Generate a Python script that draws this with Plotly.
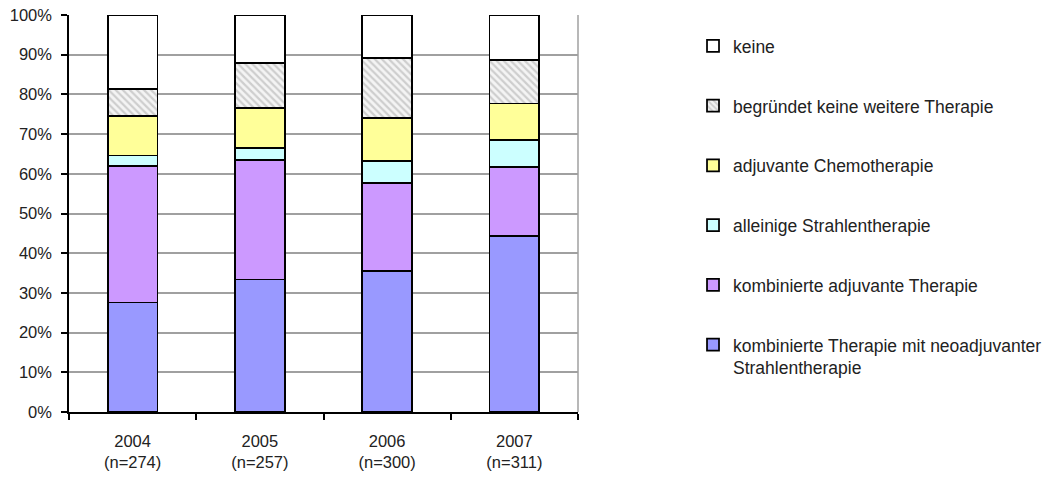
import plotly.graph_objects as go

years = ["2004<br>(n=274)", "2005<br>(n=257)", "2006<br>(n=300)", "2007<br>(n=311)"]

# Shares per year in percent, stacked from bottom to top
neoadjuvant = [27.6, 33.4, 35.6, 44.3]
kombiniert_adjuvant = [34.4, 30.0, 22.1, 17.4]
strahlentherapie = [2.6, 3.1, 5.6, 6.8]
chemotherapie = [9.9, 10.0, 10.7, 9.2]
begruendet_keine = [6.8, 11.4, 15.2, 11.0]
keine = [18.7, 12.1, 10.8, 11.3]

series = [
    ("kombinierte Therapie mit neoadjuvanter<br>Strahlentherapie", neoadjuvant, "#9999FF", None),
    ("kombinierte adjuvante Therapie", kombiniert_adjuvant, "#CC99FF", None),
    ("alleinige Strahlentherapie", strahlentherapie, "#CCFFFF", None),
    ("adjuvante Chemotherapie", chemotherapie, "#FFFF99", None),
    ("begründet keine weitere Therapie", begruendet_keine, "#FFFFFF", "\\"),
    ("keine", keine, "#FFFFFF", None),
]

font_family = "Liberation Sans, Arial, sans-serif"

fig = go.Figure()
n = len(series)
for i, (name, vals, color, shape) in enumerate(series):
    marker = dict(color=color, line=dict(color="black", width=1.75))
    if shape:
        marker["pattern"] = dict(shape=shape, fgcolor="#A8A8A8", bgcolor="#F4F4F4",
                                 size=5, solidity=0.45)
    fig.add_trace(go.Bar(
        x=years, y=vals, name=name, marker=marker,
        legendgroup=f"g{i}", legendrank=n - i, width=0.39,
    ))

fig.update_layout(
    barmode="stack",
    width=1047, height=486,
    margin=dict(l=69, r=469, t=15, b=74),
    paper_bgcolor="white", plot_bgcolor="white",
    font=dict(family=font_family, size=17, color="#222222"),
    showlegend=True,
    legend=dict(
        xref="container", x=0.6619, xanchor="left",
        yref="paper", y=0.967, yanchor="top",
        traceorder="grouped", tracegroupgap=34,
        valign="top", font=dict(size=17.5),
        itemwidth=30,
    ),
    xaxis=dict(
        showline=True, linecolor="black", linewidth=1.5,
        ticks="outside", ticklen=6, tickwidth=1.5, tickcolor="black",
        tickson="boundaries", showgrid=False, automargin=False,
        tickfont=dict(size=16.5), ticklabelstandoff=13,
    ),
    yaxis=dict(
        range=[0, 100], dtick=10, ticksuffix="%",
        showline=True, linecolor="black", linewidth=1.5,
        ticks="outside", ticklen=6, tickwidth=1.5, tickcolor="black",
        showgrid=True, gridcolor="#A0A0A0", gridwidth=1.5,
        zeroline=False, automargin=False,
        tickfont=dict(size=16.5), ticklabelstandoff=6,
    ),
    bargap=0.61,
)

# Grey frame on the right side of the plotting area
fig.add_shape(type="line", xref="paper", yref="paper", x0=1, x1=1, y0=0, y1=1,
              line=dict(color="#A0A0A0", width=1.5))

fig.write_html("out.html")
